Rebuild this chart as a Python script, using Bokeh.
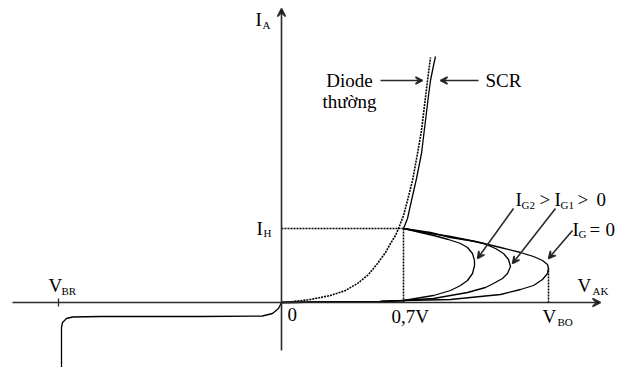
from bokeh.plotting import figure
from bokeh.models import Range1d, Arrow, VeeHead
from bokeh.core.properties import value
from bokeh.embed import file_html
from bokeh.resources import INLINE

# Diagram units: origin of the V_AK / I_A axes at (0, 0)
# Ordinary diode forward characteristic (dotted)
diode_x = [1, 12, 29, 49, 64, 76, 87, 96, 104, 109, 114, 117, 122, 126, 131, 136, 140, 143, 146, 149]
diode_y = [0, 1, 3, 7, 12, 19, 28, 39, 50, 59, 67, 74, 87, 102, 122, 149, 172, 197, 222, 245]

# SCR on-state branch, from the holding point upward
on_x = [122, 126, 130, 135, 140, 144, 147, 149, 152, 154]
on_y = [74, 84, 102, 124, 149, 182, 207, 222, 237, 246]

# Forward blocking + negative-resistance branches for each gate current
ig0_x = [0, 49, 99, 122, 169, 219, 239, 252, 261, 266, 267,
         266, 261, 252, 239, 219, 194, 169, 149, 122]
ig0_y = [0, 0.5, 1, 2, 3, 8, 13, 17, 23, 29, 34,
         38, 42, 46, 50, 55, 61, 65, 70, 74]
ig1_x = [0, 49, 99, 122, 152, 186, 204, 212, 221, 226, 229,
         227, 222, 214, 202, 189, 169, 149, 122]
ig1_y = [0, 0.5, 1, 2, 4, 10, 15, 19, 24, 29, 36,
         43, 49, 54, 59, 62, 66, 69, 74]
ig2_x = [0, 49, 99, 122, 152, 169, 179, 186, 191, 193,
         193, 191, 186, 179, 167, 152, 139, 122]
ig2_y = [0, 0.5, 1, 2, 7, 12, 17, 22, 29, 37,
         42, 49, 55, 59, 63, 67, 70, 74]

# Reverse characteristic down to breakdown
rev_x = [0, -3, -9, -19, -81, -181, -209, -215, -219, -220, -220]
rev_y = [0, -6, -11, -13.5, -14, -14, -14.5, -16, -20, -25, -70]

# Marked levels
ih_level = 74      # holding current I_H
v07 = 122          # 0,7V
vbo = 267          # breakover voltage
vbo_level = 34
vbr = -223         # reverse breakdown voltage

FONT = value("Liberation Serif")
BIG = "19px"
SMALL = "11px"

p = figure(width=617, height=367, output_backend="svg", toolbar_location=None,
           x_range=Range1d(-281, 336), y_range=Range1d(-65, 302),
           min_border=0, outline_line_color=None)
p.axis.visible = False
p.grid.visible = False
p.background_fill_color = "white"
p.border_fill_color = "white"

AX = "#2a2a2a"
# axes with arrowheads
p.add_layout(Arrow(x_start=-269, y_start=0, x_end=319, y_end=0, line_color=AX, line_width=1.6,
                   end=VeeHead(size=8, line_color=AX, line_width=1.6)))
p.add_layout(Arrow(x_start=0, y_start=-48, x_end=0, y_end=294, line_color=AX, line_width=1.6,
                   end=VeeHead(size=8, line_color=AX, line_width=1.6)))
p.segment(x0=[vbr], y0=[-4], x1=[vbr], y1=[4], line_color=AX, line_width=1.3)

# dotted guides
p.line([0, v07], [ih_level, ih_level], line_dash="2 1", line_color="black", line_width=1.5)
p.line([v07, v07], [0, ih_level], line_dash="2 1", line_color="black", line_width=1.5)
p.line([vbo, vbo], [0, vbo_level], line_dash="2 1", line_color="black", line_width=1.5)

# characteristics
p.line(diode_x, diode_y, line_dash="2 1", line_color="black", line_width=1.6)
p.line(on_x, on_y, line_color="black", line_width=1.3)
for xs, ys in ((ig0_x, ig0_y), (ig1_x, ig1_y), (ig2_x, ig2_y)):
    p.line(xs, ys, line_color="black", line_width=1.3)
p.line(rev_x, rev_y, line_color="black", line_width=1.3)

# pointer arrows
def pointer(x0, y0, x1, y1):
    p.add_layout(Arrow(x_start=x0, y_start=y0, x_end=x1, y_end=y1, line_color=AX, line_width=1.6,
                       end=VeeHead(size=7, line_color=AX, line_width=1.6)))

pointer(99, 222, 141, 222)
pointer(197, 222, 159, 222)
pointer(232, 94, 196, 44)
pointer(274, 94, 231, 39)
pointer(291, 72, 267, 44)

def label(x, y, s, size=BIG, align="left"):
    p.text(x=[x], y=[y], text=[s], text_font=FONT, text_font_size=size,
           text_align=align, text_baseline="middle", text_color="black")

label(-26, 283, "I"); label(-19, 278, "A", SMALL)
label(68, 222, "Diode", align="center")
label(68, 201, "thường", align="center")
label(204, 222, "SCR")
label(-25, 74, "I"); label(-18, 70, "H", SMALL)
label(-233, 17, "V"); label(-220, 12, "BR", SMALL)
label(6, -12, "0")
label(110, -14, "0,7V")
label(261, -14, "V"); label(276, -19, "BO", SMALL)
label(296, 17, "V"); label(311, 12, "AK", SMALL)
label(234, 103, "I"); label(240, 98, "G2", SMALL)
label(258, 103, ">")
label(273, 103, "I"); label(279, 98, "G1", SMALL)
label(296, 103, ">")
label(315, 103, "0")
label(291, 73, "I"); label(297, 69, "G", SMALL)
label(308, 73, "=")
label(324, 73, "0")

open("out.html", "w").write(file_html(p, INLINE))
